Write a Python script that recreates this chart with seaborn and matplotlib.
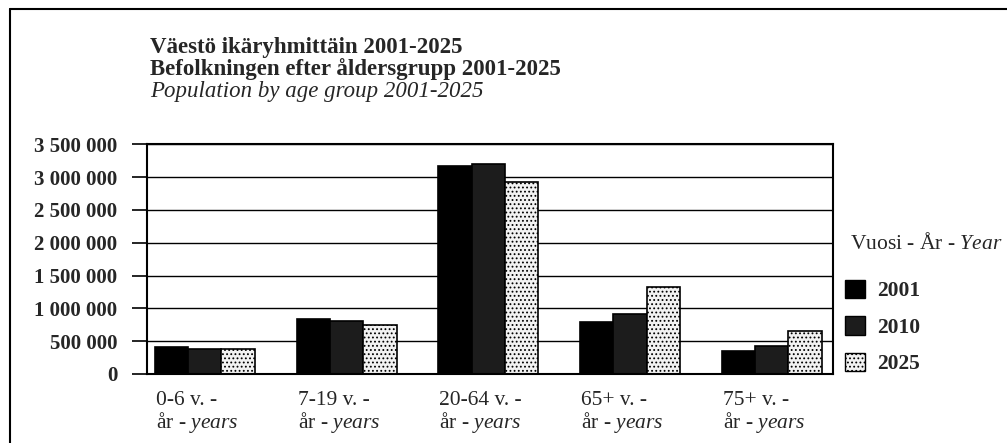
import matplotlib
matplotlib.use("Agg")
import matplotlib.pyplot as plt
import matplotlib.transforms as mtransforms
from matplotlib.patches import Patch
from matplotlib.ticker import FuncFormatter, MultipleLocator
from matplotlib.lines import Line2D
import seaborn as sns
import pandas as pd

categories = ["0-6 v. -\når - $\\mathit{years}$", "7-19 v. -\når - $\\mathit{years}$",
              "20-64 v. -\når - $\\mathit{years}$", "65+ v. -\når - $\\mathit{years}$",
              "75+ v. -\når - $\\mathit{years}$"]
years = ["2001", "2010", "2025"]
values_2001 = [414000, 843000, 3170000, 793000, 357000]
values_2010 = [388000, 802000, 3195000, 920000, 419000]
values_2025 = [378000, 741000, 2925000, 1324000, 649000]
title_lines = ["Väestö ikäryhmittäin 2001-2025",
               "Befolkningen efter åldersgrupp 2001-2025",
               "Population by age group 2001-2025"]
legend_title = "Vuosi - År - $\\mathit{Year}$"

sns.set_style("white")
plt.rcParams["font.family"] = ["Liberation Serif", "DejaVu Serif"]
plt.rcParams["mathtext.fontset"] = "custom"
plt.rcParams["mathtext.rm"] = "Liberation Serif"
plt.rcParams["mathtext.it"] = "Liberation Serif:italic"
plt.rcParams["mathtext.bf"] = "Liberation Serif:bold"
plt.rcParams["hatch.linewidth"] = 0.8

rows = []
for yr, vals in zip(years, [values_2001, values_2010, values_2025]):
    for c, v in zip(categories, vals):
        rows.append({"group": c, "year": yr, "value": v})
df = pd.DataFrame(rows)

colors = ["#000000", "#1c1c1c", "#f2f2f2"]
hatches = [None, None, "...."]

fig = plt.figure(figsize=(10.07, 4.43), dpi=100)
ax = fig.add_axes([0.1457, 0.1558, 0.6812, 0.5185])

sns.barplot(data=df, x="group", y="value", hue="year", palette=colors,
            width=0.705, gap=0, edgecolor="black", linewidth=1.2,
            saturation=1, ax=ax, legend=False)
for cont, h in zip(ax.containers, hatches):
    if h:
        for p in cont:
            p.set_hatch(h)

ax.set_ylim(0, 3500000)
ax.set_xlim(-0.41, 4.43)
ax.yaxis.set_major_locator(MultipleLocator(500000))
ax.yaxis.set_major_formatter(FuncFormatter(lambda v, p: f"{int(v):,}".replace(",", " ")))
ax.set_axisbelow(True)
ax.yaxis.grid(True, color="black", linewidth=1.0)
ax.xaxis.grid(False)
for s in ax.spines.values():
    s.set_color("black")
    s.set_linewidth(1.5)
ax.set_xlabel("")
ax.set_ylabel("")
ax.tick_params(axis="y", which="major", direction="out", length=11, width=1.2,
               color="black", left=True, pad=10, labelsize=15)
ax.tick_params(axis="x", length=0, pad=12, labelsize=15.5)
for lab in ax.get_yticklabels():
    lab.set_fontweight("bold")
offset = mtransforms.ScaledTranslation(-0.49, 0, fig.dpi_scale_trans)
for lab in ax.get_xticklabels():
    lab.set_horizontalalignment("left")
    lab.set_multialignment("left")
    lab.set_linespacing(1.0)
    lab.set_transform(lab.get_transform() + offset)

handles = [Patch(facecolor=c, edgecolor="black", hatch=h, linewidth=1.0)
           for c, h in zip(colors, hatches)]
leg = fig.legend(handles=handles, labels=years,
                 loc="center left", bbox_to_anchor=(845 / 1007, 1 - 327 / 443),
                 frameon=False, fontsize=15.5,
                 handlelength=0.93, handleheight=0.93, handletextpad=0.55,
                 labelspacing=0.7, borderpad=0, borderaxespad=0)
for t in leg.get_texts():
    t.set_fontweight("bold")
fig.text(850 / 1007, 1 - 243 / 443, legend_title, fontsize=15.5, va="center", ha="left")

fig.text(0.149, 0.880, title_lines[0], fontsize=16.5, fontweight="bold", va="baseline")
fig.text(0.149, 0.831, title_lines[1], fontsize=16.5, fontweight="bold", va="baseline")
fig.text(0.149, 0.781, title_lines[2], fontsize=16.5, fontstyle="italic", va="baseline")

fig.add_artist(Line2D([0.0099, 1.0], [0.98, 0.98], transform=fig.transFigure,
                      color="black", linewidth=1.5))
fig.add_artist(Line2D([0.0099, 0.0099], [0.0, 0.98], transform=fig.transFigure,
                      color="black", linewidth=1.5))

fig.savefig("out.png", dpi=100, facecolor="white")
